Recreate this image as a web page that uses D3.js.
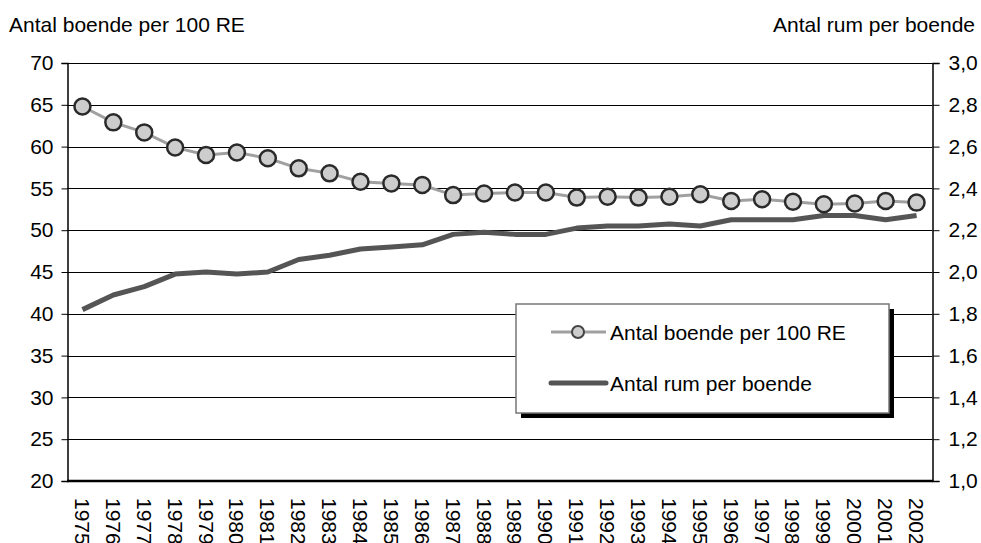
<!DOCTYPE html>
<html>
<head>
<meta charset="utf-8">
<script src="https://cdn.jsdelivr.net/npm/d3@7"></script>
<style>
  body { margin: 0; background: #fff; }
  svg { font-family: "Liberation Sans", Arial, sans-serif; }
</style>
</head>
<body>
<svg id="canvas" width="981" height="543"></svg>
<script>
let years = ["1975","1976","1977","1978","1979","1980","1981","1982","1983","1984","1985","1986","1987","1988",
             "1989","1990","1991","1992","1993","1994","1995","1996","1997","1998","1999","2000","2001","2002"]

// Antal boende per 100 RE (left axis)
let boende = [64.8, 62.9, 61.7, 59.9, 59.0, 59.3, 58.6, 57.4, 56.8, 55.8, 55.6, 55.4, 54.2, 54.4,
              54.5, 54.5, 53.9, 54.0, 53.9, 54.0, 54.3, 53.5, 53.7, 53.4, 53.1, 53.2, 53.5, 53.3]

// Antal rum per boende (right axis)
let rum = [1.82, 1.89, 1.93, 1.99, 2.00, 1.99, 2.00, 2.06, 2.08, 2.11, 2.12, 2.13, 2.18, 2.19,
           2.18, 2.18, 2.21, 2.22, 2.22, 2.23, 2.22, 2.25, 2.25, 2.25, 2.27, 2.27, 2.25, 2.27]

let leftTicks = [20, 25, 30, 35, 40, 45, 50, 55, 60, 65, 70]
let rightTicks = [1.0, 1.2, 1.4, 1.6, 1.8, 2.0, 2.2, 2.4, 2.6, 2.8, 3.0]

let leftTitle = "Antal boende per 100 RE"
let rightTitle = "Antal rum per boende"
let seriesNames = ["Antal boende per 100 RE", "Antal rum per boende"]

let svg = d3.select("#canvas")
let plot = { left: 67, right: 932, top: 63, bottom: 481 }
let fontSize = 21

let x = d3.scalePoint().domain(years).range([plot.left, plot.right]).padding(0.5)
let yL = d3.scaleLinear().domain([20, 70]).range([plot.bottom, plot.top])
let yR = d3.scaleLinear().domain([1, 3]).range([plot.bottom, plot.top])

let sv = d3.formatLocale({ decimal: ",", thousands: " ", grouping: [3], currency: ["", " kr"] })

// gridlines
svg.append("g")
    .selectAll("line")
    .data(leftTicks.slice(1))
    .enter()
    .append("line")
    .attr("x1", plot.left)
    .attr("x2", plot.right)
    .attr("y1", d => Math.round(yL(d)) + 0.5)
    .attr("y2", d => Math.round(yL(d)) + 0.5)
    .attr("stroke", "#000")
    .attr("stroke-width", 1)

// left axis
let gL = svg.append("g")
    .attr("transform", "translate(" + (plot.left + 0.5) + ",0)")
    .call(d3.axisLeft(yL).tickValues(leftTicks).tickSize(6).tickPadding(8))
gL.select(".domain").attr("stroke", "#000").attr("stroke-width", 1.5)
gL.selectAll("text").attr("font-size", fontSize).attr("fill", "#000").attr("font-family", "Liberation Sans, Arial, sans-serif")

// right axis
let gR = svg.append("g")
    .attr("transform", "translate(" + (plot.right + 0.5) + ",0)")
    .call(d3.axisRight(yR).tickValues(rightTicks).tickSize(7).tickPadding(9).tickFormat(sv.format(".1f")))
gR.select(".domain").attr("stroke", "#000").attr("stroke-width", 1.5)
gR.selectAll("text").attr("font-size", fontSize).attr("fill", "#000").attr("font-family", "Liberation Sans, Arial, sans-serif")

// bottom axis line
svg.append("line")
    .attr("x1", plot.left)
    .attr("x2", plot.right + 1)
    .attr("y1", plot.bottom)
    .attr("y2", plot.bottom)
    .attr("stroke", "#000")
    .attr("stroke-width", 2.5)

// year labels, rotated
svg.append("g")
    .selectAll("text")
    .data(years)
    .enter()
    .append("text")
    .attr("transform", d => "translate(" + x(d) + "," + (plot.bottom + 17) + ") rotate(90)")
    .attr("dominant-baseline", "central")
    .attr("font-size", fontSize)
    .text(d => d)

// axis titles
svg.append("text").attr("x", 9).attr("y", 32).attr("font-size", fontSize).text(leftTitle)
svg.append("text").attr("x", 975).attr("y", 32).attr("text-anchor", "end").attr("font-size", fontSize).text(rightTitle)

// series 2: rum per boende
svg.append("path")
    .datum(rum)
    .attr("fill", "none")
    .attr("stroke", "#555")
    .attr("stroke-width", 5)
    .attr("stroke-linejoin", "round")
    .attr("d", d3.line().x((d, i) => x(years[i])).y(d => yR(d)))

// series 1: boende per 100 RE
svg.append("path")
    .datum(boende)
    .attr("fill", "none")
    .attr("stroke", "#a0a0a0")
    .attr("stroke-width", 3)
    .attr("d", d3.line().x((d, i) => x(years[i])).y(d => yL(d)))

svg.append("g")
    .selectAll("circle")
    .data(boende)
    .enter()
    .append("circle")
    .attr("cx", (d, i) => x(years[i]))
    .attr("cy", d => yL(d))
    .attr("r", 8)
    .attr("fill", "#cdcdcd")
    .attr("stroke", "#2a2a2a")
    .attr("stroke-width", 2.5)

// legend
let lg = svg.append("g").attr("transform", "translate(516,304)")
lg.append("rect").attr("x", 5).attr("y", 5).attr("width", 373).attr("height", 109).attr("fill", "#000")
lg.append("rect").attr("width", 373).attr("height", 109).attr("fill", "#fff").attr("stroke", "#777").attr("stroke-width", 1.5)

lg.append("line").attr("x1", 35).attr("x2", 90).attr("y1", 28).attr("y2", 28).attr("stroke", "#a0a0a0").attr("stroke-width", 3)
lg.append("circle").attr("cx", 62).attr("cy", 28).attr("r", 6).attr("fill", "#cdcdcd").attr("stroke", "#444").attr("stroke-width", 2)
lg.append("text").attr("x", 94).attr("y", 28).attr("dominant-baseline", "central").attr("font-size", fontSize).text(seriesNames[0])

lg.append("line").attr("x1", 35).attr("x2", 90).attr("y1", 79).attr("y2", 79).attr("stroke", "#555").attr("stroke-width", 5).attr("stroke-linecap", "round")
lg.append("text").attr("x", 94).attr("y", 79).attr("dominant-baseline", "central").attr("font-size", fontSize).text(seriesNames[1])
</script>
</body>
</html>
